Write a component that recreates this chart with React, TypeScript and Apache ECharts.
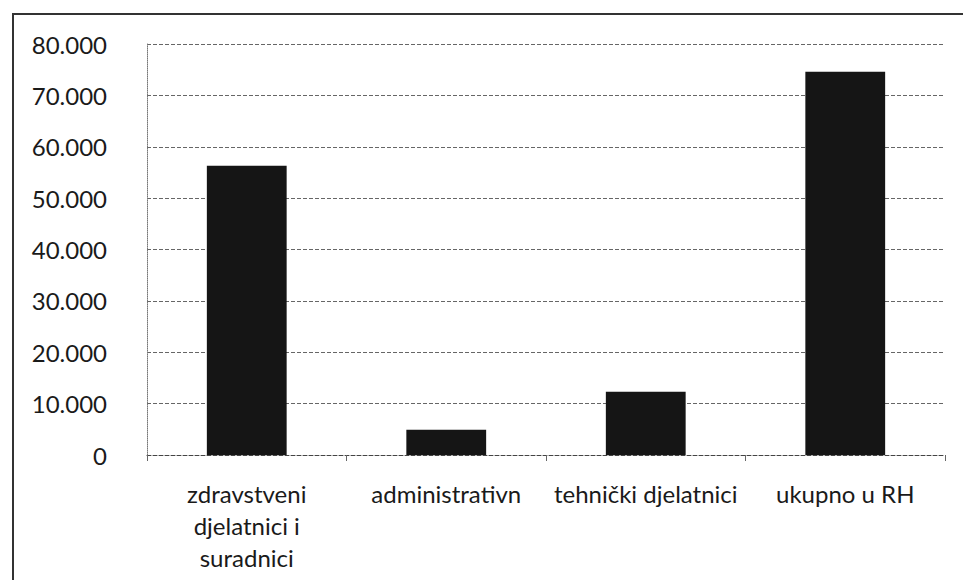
import React, { useEffect, useRef } from "react";
import * as echarts from "echarts";

const categories = [
  "zdravstveni\ndjelatnici i\nsuradnici",
  "administrativn",
  "tehnički djelatnici",
  "ukupno u RH",
];
const values = [56300, 4900, 12300, 74600];
const yMin = 0;
const yMax = 80000;
const yInterval = 10000;

const fmt = (v: number) =>
  v === 0 ? "0" : String(Math.round(v)).replace(/\B(?=(\d{3})+(?!\d))/g, ".");

export default function App() {
  const ref = useRef<HTMLDivElement>(null);
  useEffect(() => {
    if (!ref.current) return;
    const chart = echarts.init(ref.current, undefined, { renderer: "svg" });
    const font = "Lato, 'Open Sans', sans-serif";
    chart.setOption({
      animation: false,
      backgroundColor: "#ffffff",
      graphic: [
        {
          type: "rect",
          shape: { x: 13, y: 14, width: 1000, height: 700 },
          style: { fill: "none", stroke: "#333", lineWidth: 2 },
          silent: true,
        },
      ],
      grid: { left: 147, right: 18, top: 44, bottom: 125, containLabel: false },
      xAxis: {
        type: "category",
        data: categories,
        axisLine: { show: true, lineStyle: { color: "#444", type: "dashed", width: 1 } },
        axisTick: { show: true, inside: false, length: 6, alignWithLabel: false, lineStyle: { color: "#666" } },
        axisLabel: {
          interval: 0,
          color: "#1a1a1a",
          fontFamily: font,
          fontSize: 24,
          lineHeight: 32,
          margin: 22,
        },
        splitLine: { show: false },
      },
      yAxis: {
        type: "value",
        min: yMin,
        max: yMax,
        interval: yInterval,
        axisLine: { show: true, lineStyle: { color: "#777", type: "dotted", width: 1 } },
        axisTick: { show: false },
        axisLabel: {
          color: "#1a1a1a",
          fontFamily: font,
          fontSize: 24,
          margin: 40,
          formatter: (v: number) => fmt(v),
        },
        splitLine: { show: true, lineStyle: { color: "#666", type: "dashed", width: 1 } },
      },
      series: [
        {
          type: "bar",
          data: values,
          barWidth: "40%",
          itemStyle: { color: "#151515" },
        },
      ],
    });
    return () => chart.dispose();
  }, []);
  return (
    <div
      ref={ref}
      style={{ position: "absolute", left: 0, top: 0, width: 963, height: 580 }}
    />
  );
}
